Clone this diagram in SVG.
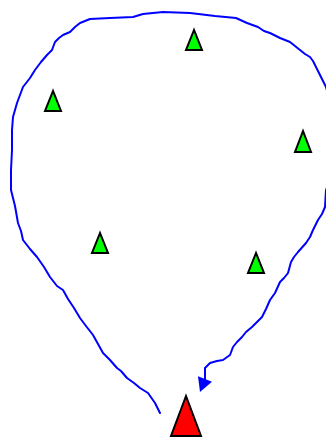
<svg xmlns="http://www.w3.org/2000/svg" width="326" height="438" viewBox="0 0 326 438">
<style>
.tree{fill:#00ff00;stroke:#000;stroke-width:2;stroke-linejoin:miter}
.start{fill:#ff0000;stroke:#000;stroke-width:2;stroke-linejoin:miter}
.route{fill:none;stroke:#0000ff;stroke-width:2;stroke-linejoin:round;stroke-linecap:round}
</style>
<defs>
<marker id="arrow" markerUnits="userSpaceOnUse" markerWidth="15" markerHeight="16" refX="0" refY="7.5" orient="111" overflow="visible">
<path d="M0,0 L14,7.5 L0,15 Z" fill="#0000ff"/>
</marker>
</defs>
<rect width="326" height="438" fill="#fff"/>
<g id="connectors">
<path class="route" marker-end="url(#arrow)" d="M160,413 L155,403 L148,393 L140,388 L134,383 L127,378 L121,371 L117,368 L110,360 L103,353 L98,344 L93,335 L86,326 L80,318 L74,308 L68,299 L63,290 L57,286 L50,277 L44,267 L37,257 L30,249 L23,240 L21,231 L18,223 L15,206 L11,190 L11,170 L12,150 L12,130 L13,117 L17,103 L20,95 L23,87 L30,78 L35,70 L41,62 L47,55 L52,50 L55,42 L59,38 L63,35 L70,32 L75,27 L80,23 L90,19 L110,18 L133,17 L143,14 L163,12 L190,13 L215,16 L236,18 L247,23 L258,27 L264,31 L270,33 L280,38 L290,42 L295,46 L300,50 L305,54 L310,57 L313,61 L316,67 L321,77 L326,87 L331,105 L333,130 L333,160 L330,180 L326,190 L325,207 L322,214 L318,220 L313,230 L310,237 L306,243 L298,252 L294,257 L291,262 L288,273 L284,278 L280,282 L275,293 L270,300 L266,309 L262,317 L252,327 L246,332 L242,337 L237,342 L233,347 L230,355 L223,360 L217,361 L210,363 L205,368 L205,379"/>
</g>
<g id="tree1"><polygon class="tree" points="194,30 186,50 202,50"/></g>
<g id="tree2"><polygon class="tree" points="53,91 45,111 61,111"/></g>
<g id="tree3"><polygon class="tree" points="303,131 295,152 311,152"/></g>
<g id="tree4"><polygon class="tree" points="100,233 92,253 108,253"/></g>
<g id="tree5"><polygon class="tree" points="256,253 248,273 264,273"/></g>
<g id="start"><polygon class="start" points="186,396 171,436 201,436"/></g>
</svg>
